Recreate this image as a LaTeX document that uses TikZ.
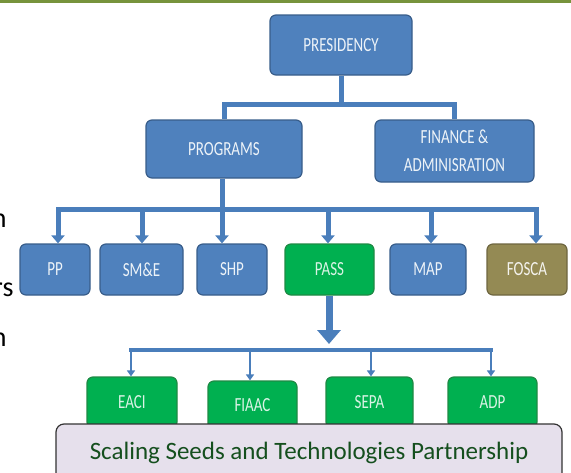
\documentclass[tikz,border=0pt]{standalone}
\usepackage{fontspec}
\setmainfont{Carlito}
\newfontfamily\narrowfont[FakeStretch=0.75]{Carlito}
\usetikzlibrary{arrows.meta}

\definecolor{topbar}{HTML}{77933C}
\definecolor{blueFill}{HTML}{4F81BD}
\definecolor{blueEdge}{HTML}{385D8A}
\definecolor{greenFill}{HTML}{00B050}
\definecolor{greenEdge}{HTML}{1E8A44}
\definecolor{oliveFill}{HTML}{948A54}
\definecolor{oliveEdge}{HTML}{6E6640}
\definecolor{capFill}{HTML}{E6E0EC}
\definecolor{capText}{HTML}{154F1E}
\definecolor{linkBlue}{HTML}{4A7EBB}

\tikzset{
  orgbox/.style={rectangle, rounded corners=6pt, draw=blueEdge, fill=blueFill,
    line width=1.2pt, text=white!90!blueFill, align=center, inner sep=0pt,
    font=\narrowfont\fontsize{20}{25}\selectfont},
  greenbox/.style={orgbox, draw=greenEdge, fill=greenFill, text=white!85!greenFill},
  olivebox/.style={orgbox, draw=oliveEdge, fill=oliveFill, text=white!90!oliveFill},
  bus/.style={draw=linkBlue, line width=5pt},
  drop/.style={draw=linkBlue, line width=5pt, -{Triangle[length=8pt,width=13pt]}},
  bigdrop/.style={draw=linkBlue, line width=7pt, -{Triangle[length=14pt,width=23pt]}},
  thinbus/.style={draw=linkBlue, line width=3.5pt},
  thindrop/.style={draw=linkBlue, line width=2.5pt, -{Triangle[length=6pt,width=8pt]}},
  capbox/.style={rectangle, rounded corners=8pt, draw=black!80, fill=capFill,
    line width=1.2pt, minimum width=506pt, minimum height=66pt},
  fragment/.style={anchor=base east, text=black, font=\fontsize{28}{32}\selectfont}
}

\begin{document}
\begin{tikzpicture}[x=1pt, y=-1pt]
\useasboundingbox (0,0) rectangle (571,472);
\clip (0,0) rectangle (571,472);

% thin rule along the top
\fill[topbar] (0,0) rectangle (571,3);

% word endings running in from the left edge
\node[fragment] (fragA) at (10,227) {n};
\node[fragment] (fragB) at (17,296) {rs};
\node[fragment] (fragC) at (10,346) {n};

% top levels
\node[orgbox, minimum width=142pt, minimum height=60pt] (pres) at (341,45) {PRESIDENCY};
\node[orgbox, minimum width=156pt, minimum height=58pt] (prog) at (224,149) {PROGRAMS};
\node[orgbox, minimum width=159pt, minimum height=62pt] (fin) at (454.5,151) {FINANCE \&\\[3pt]ADMINISRATION};

% programme units
\node[orgbox, minimum width=70pt, minimum height=51pt] (pp) at (55,269.5) {PP};
\node[orgbox, minimum width=83pt, minimum height=51pt] (sme) at (141.5,269.5) {SM\&E};
\node[orgbox, minimum width=70pt, minimum height=51pt] (shp) at (232,269.5) {SHP};
\node[greenbox, minimum width=89pt, minimum height=51pt] (pass) at (329.5,269.5) {PASS};
\node[orgbox, minimum width=76pt, minimum height=51pt] (map) at (428,269.5) {MAP};
\node[olivebox, minimum width=80pt, minimum height=51pt] (fosca) at (527,269.5) {FOSCA};

% PASS partners
\node[greenbox, minimum width=90pt, minimum height=51pt] (eaci) at (132,402.5) {EACI};
\node[greenbox, minimum width=89pt, minimum height=49pt] (fiaac) at (252.5,405.5) {FIAAC};
\node[greenbox, minimum width=87pt, minimum height=51pt] (sepa) at (369.5,402.5) {SEPA};
\node[greenbox, minimum width=89pt, minimum height=51pt] (adp) at (492.5,402.5) {ADP};

% connectors: presidency level
\coordinate (b1c) at (341,104);
\coordinate (b1l) at (224,104);
\coordinate (b1r) at (454.5,104);
\draw[bus] (pres.south) -- (b1c);
\draw[bus, line cap=rect] (b1l) -- (b1r);
\draw[bus] (b1l) -- (prog.north);
\draw[bus] (b1r) -- (fin.north);

% connectors: programmes level
\coordinate (s2) at (222,209.5);
\coordinate (b2l) at (58,209.5);
\coordinate (b2r) at (536,209.5);
\coordinate (d2pp) at (58,209.5);
\coordinate (d2sme) at (142,209.5);
\coordinate (d2shp) at (222,209.5);
\coordinate (d2pass) at (328,209.5);
\coordinate (d2map) at (431,209.5);
\coordinate (d2fosca) at (536,209.5);
\draw[bus] (s2 |- prog.south) -- (s2);
\draw[bus, line cap=rect] (b2l) -- (b2r);
\draw[drop] (d2pp) -- (d2pp |- pp.north);
\draw[drop] (d2sme) -- (d2sme |- sme.north);
\draw[drop] (d2shp) -- (d2shp |- shp.north);
\draw[drop] (d2pass) -- (d2pass |- pass.north);
\draw[drop] (d2map) -- (d2map |- map.north);
\draw[drop] (d2fosca) -- (d2fosca |- fosca.north);

% connectors: PASS level
\coordinate (s3) at (329,344);
\coordinate (b3l) at (131,350);
\coordinate (b3r) at (491,350);
\coordinate (d3eaci) at (131,350);
\coordinate (d3fiaac) at (250,350);
\coordinate (d3sepa) at (371,350);
\coordinate (d3adp) at (491,350);
\draw[bigdrop] (s3 |- pass.south) -- (s3);
\draw[thinbus, line cap=rect] (b3l) -- (b3r);
\draw[thindrop] (d3eaci) -- (d3eaci |- eaci.north);
\draw[thindrop] (d3fiaac) -- (d3fiaac |- fiaac.north);
\draw[thindrop] (d3sepa) -- (d3sepa |- sepa.north);
\draw[thindrop] (d3adp) -- (d3adp |- adp.north);

% partnership banner over the partner boxes
\node[capbox] (caption) at (309,457) {};
\node[anchor=base, text=capText, font=\fontsize{25}{30}\selectfont] (captext) at (309,459)
  {Scaling Seeds and Technologies Partnership};
\end{tikzpicture}
\end{document}
